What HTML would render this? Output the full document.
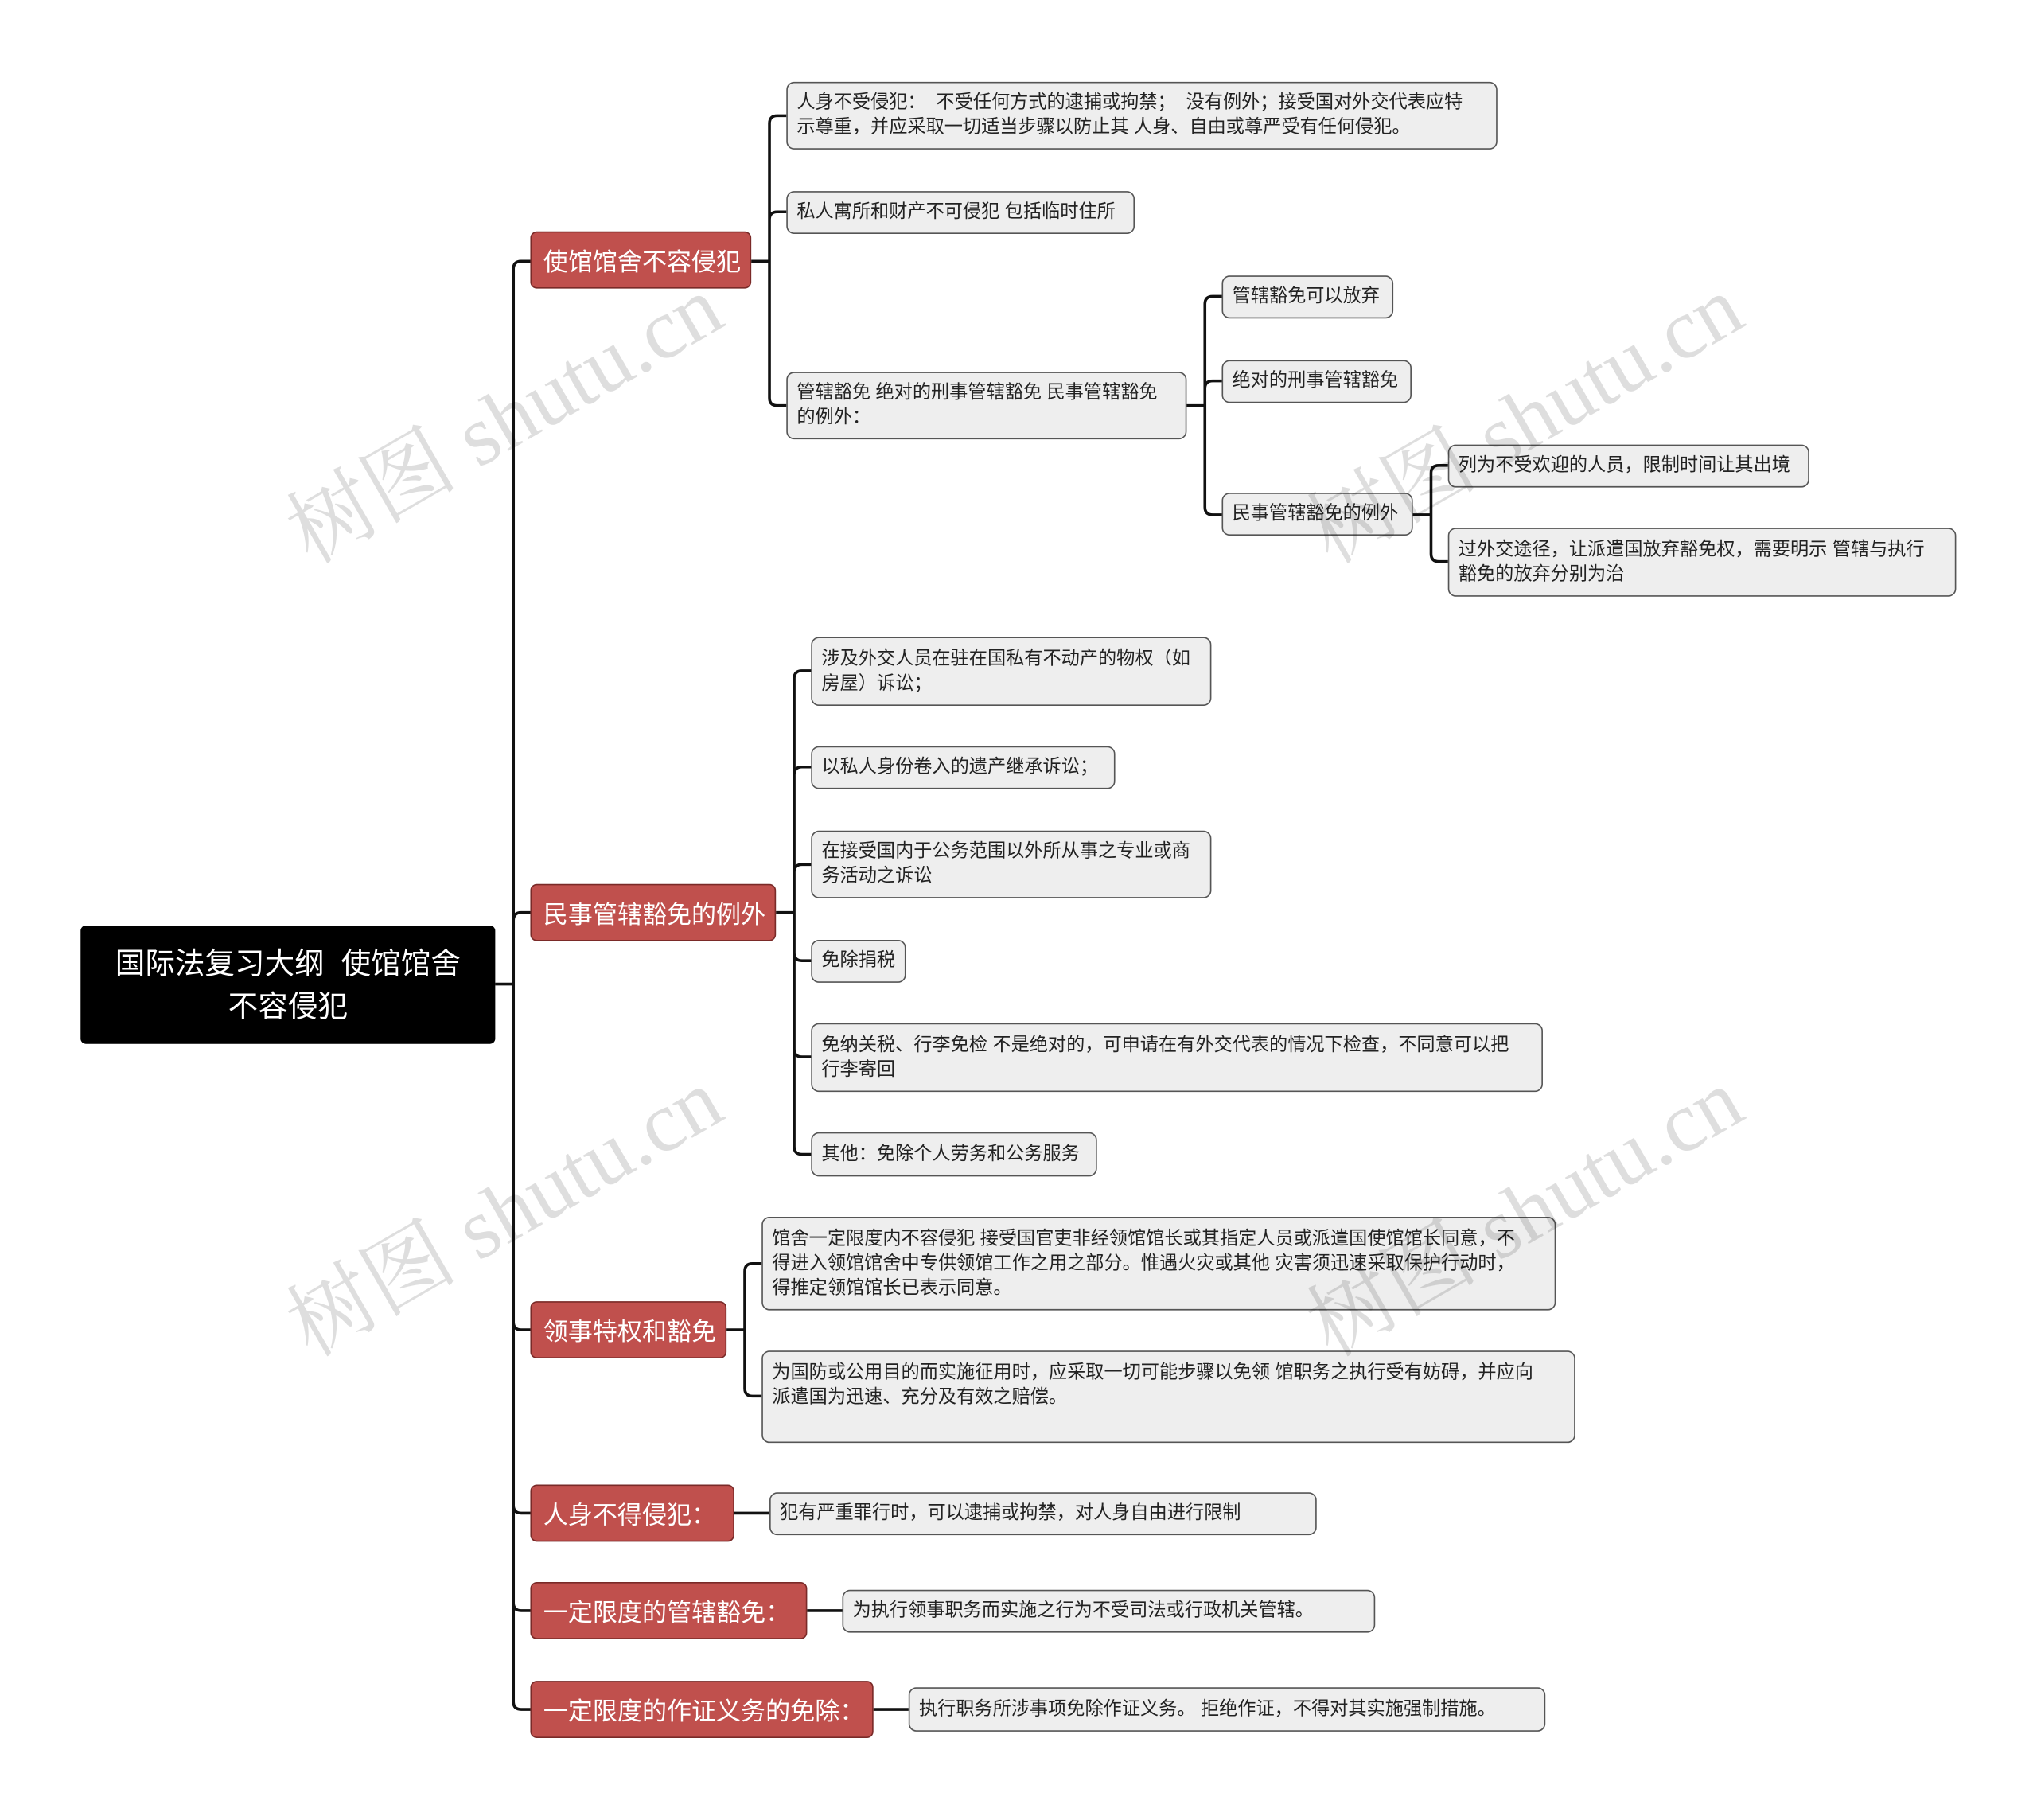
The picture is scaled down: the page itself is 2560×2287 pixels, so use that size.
<!DOCTYPE html>
<html><head><meta charset="utf-8"><style>
html,body{margin:0;padding:0;background:#fff;}
body{width:2560px;height:2285px;overflow:hidden;position:relative;}
#w{position:absolute;left:0;top:0;width:1570px;height:1400px;transform:scale(1.6335);transform-origin:0 0;font-family:"Liberation Sans","Noto Sans CJK SC",sans-serif;}
.b{position:absolute;box-sizing:border-box;display:flex;align-items:center;white-space:nowrap;}
.root{background:#000;color:#fff;font-size:23px;line-height:33px;border-radius:4px;justify-content:center;text-align:center;}
.red{background:#c0504d;border:1.5px solid #7a2a28;color:#fff;font-size:19px;border-radius:5px;padding-left:9px;}
.g{background:#eeeeee;border:1.3px solid #555;color:#222;font-size:14.2px;line-height:19px;border-radius:6px;padding:0 7px;}
.top{align-items:flex-start;padding-top:7px;}
.wm{position:absolute;font-family:"Liberation Serif","Noto Serif CJK SC",serif;font-size:66px;color:rgba(0,0,0,0.13);transform:rotate(-30deg);white-space:nowrap;transform-origin:center;}
svg{position:absolute;left:0;top:0;}
</style></head><body><div id="w">
<svg width="1570" height="1400" fill="none" stroke="#111" stroke-width="2.2">
<path d="M381 757H395M395 757V207Q395 201 401 201H408M395 757V708Q395 702 401 702H408M395 757V1017Q395 1023 401 1023H408M395 757V1158Q395 1164 401 1164H408M395 757V1233Q395 1239 401 1239H408M395 757V1309Q395 1315 401 1315H408"/>
<path d="M578 201H592M592 201V95Q592 89 598 89H605M592 201V169Q592 163 598 163H605M592 201V306Q592 312 598 312H605"/>
<path d="M913 312H927M927 312V234Q927 228 933 228H940M927 312V299Q927 293 933 293H940M927 312V390Q927 396 933 396H940"/>
<path d="M1087 396H1101M1101 396V364Q1101 358 1107 358H1114M1101 396V426Q1101 432 1107 432H1114"/>
<path d="M597 702H611M611 702V522Q611 516 617 516H624M611 702V596Q611 590 617 590H624M611 702V671Q611 665 617 665H624M611 702V733Q611 739 617 739H624M611 702V807Q611 813 617 813H624M611 702V882Q611 888 617 888H624"/>
<path d="M559 1023H573M573 1023V978Q573 972 579 972H586M573 1023V1068Q573 1074 579 1074H586"/>
<path d="M565 1164H592M621 1239H648M672 1315H699"/>
</svg>
<div class="b root" style="left:62px;top:712px;width:319px;height:91px;">国际法复习大纲&nbsp;&nbsp;使馆馆舍<br>不容侵犯</div>
<div class="b red" style="left:408px;top:178px;width:170px;height:44px;">使馆馆舍不容侵犯</div>
<div class="b red" style="left:408px;top:680px;width:189px;height:44px;">民事管辖豁免的例外</div>
<div class="b red" style="left:408px;top:1001px;width:151px;height:44px;">领事特权和豁免</div>
<div class="b red" style="left:408px;top:1142px;width:157px;height:44px;">人身不得侵犯：</div>
<div class="b red" style="left:408px;top:1217px;width:213px;height:44px;">一定限度的管辖豁免：</div>
<div class="b red" style="left:408px;top:1293px;width:264px;height:44px;">一定限度的作证义务的免除：</div>

<div class="b g" style="left:605px;top:63px;width:547px;height:52px;">人身不受侵犯：&nbsp;&nbsp;不受任何方式的逮捕或拘禁；&nbsp;&nbsp;没有例外；接受国对外交代表应特<br>示尊重，并应采取一切适当步骤以防止其 人身、自由或尊严受有任何侵犯。</div>
<div class="b g" style="left:605px;top:147px;width:268px;height:33px;">私人寓所和财产不可侵犯 包括临时住所</div>
<div class="b g" style="left:605px;top:286px;width:308px;height:52px;">管辖豁免 绝对的刑事管辖豁免 民事管辖豁免<br>的例外：</div>
<div class="b g" style="left:940px;top:212px;width:132px;height:33px;">管辖豁免可以放弃</div>
<div class="b g" style="left:940px;top:277px;width:146px;height:33px;">绝对的刑事管辖豁免</div>
<div class="b g" style="left:940px;top:379px;width:147px;height:33px;">民事管辖豁免的例外</div>
<div class="b g" style="left:1114px;top:342px;width:278px;height:33px;">列为不受欢迎的人员，限制时间让其出境</div>
<div class="b g" style="left:1114px;top:406px;width:391px;height:53px;">过外交途径，让派遣国放弃豁免权，需要明示 管辖与执行<br>豁免的放弃分别为治</div>

<div class="b g" style="left:624px;top:490px;width:308px;height:53px;">涉及外交人员在驻在国私有不动产的物权（如<br>房屋）诉讼；</div>
<div class="b g" style="left:624px;top:574px;width:234px;height:33px;">以私人身份卷入的遗产继承诉讼；</div>
<div class="b g" style="left:624px;top:639px;width:308px;height:52px;">在接受国内于公务范围以外所从事之专业或商<br>务活动之诉讼</div>
<div class="b g" style="left:624px;top:723px;width:73px;height:33px;">免除捐税</div>
<div class="b g" style="left:624px;top:787px;width:563px;height:53px;">免纳关税、行李免检 不是绝对的，可申请在有外交代表的情况下检查，不同意可以把<br>行李寄回</div>
<div class="b g" style="left:624px;top:871px;width:220px;height:34px;">其他：免除个人劳务和公务服务</div>

<div class="b g" style="left:586px;top:936px;width:611px;height:72px;">馆舍一定限度内不容侵犯 接受国官吏非经领馆馆长或其指定人员或派遣国使馆馆长同意，不<br>得进入领馆馆舍中专供领馆工作之用之部分。惟遇火灾或其他 灾害须迅速采取保护行动时，<br>得推定领馆馆长已表示同意。</div>
<div class="b g top" style="left:586px;top:1039px;width:626px;height:71px;">为国防或公用目的而实施征用时，应采取一切可能步骤以免领 馆职务之执行受有妨碍，并应向<br>派遣国为迅速、充分及有效之赔偿。</div>

<div class="b g" style="left:592px;top:1148px;width:421px;height:33px;">犯有严重罪行时，可以逮捕或拘禁，对人身自由进行限制</div>
<div class="b g" style="left:648px;top:1223px;width:410px;height:33px;">为执行领事职务而实施之行为不受司法或行政机关管辖。</div>
<div class="b g" style="left:699px;top:1298px;width:490px;height:34px;">执行职务所涉事项免除作证义务。 拒绝作证，不得对其实施强制措施。</div>

<div class="wm" style="left:200px;top:270px;">树图 shutu.cn</div>
<div class="wm" style="left:985px;top:270px;">树图 shutu.cn</div>
<div class="wm" style="left:200px;top:880px;">树图 shutu.cn</div>
<div class="wm" style="left:985px;top:880px;">树图 shutu.cn</div>
</div></body></html>
